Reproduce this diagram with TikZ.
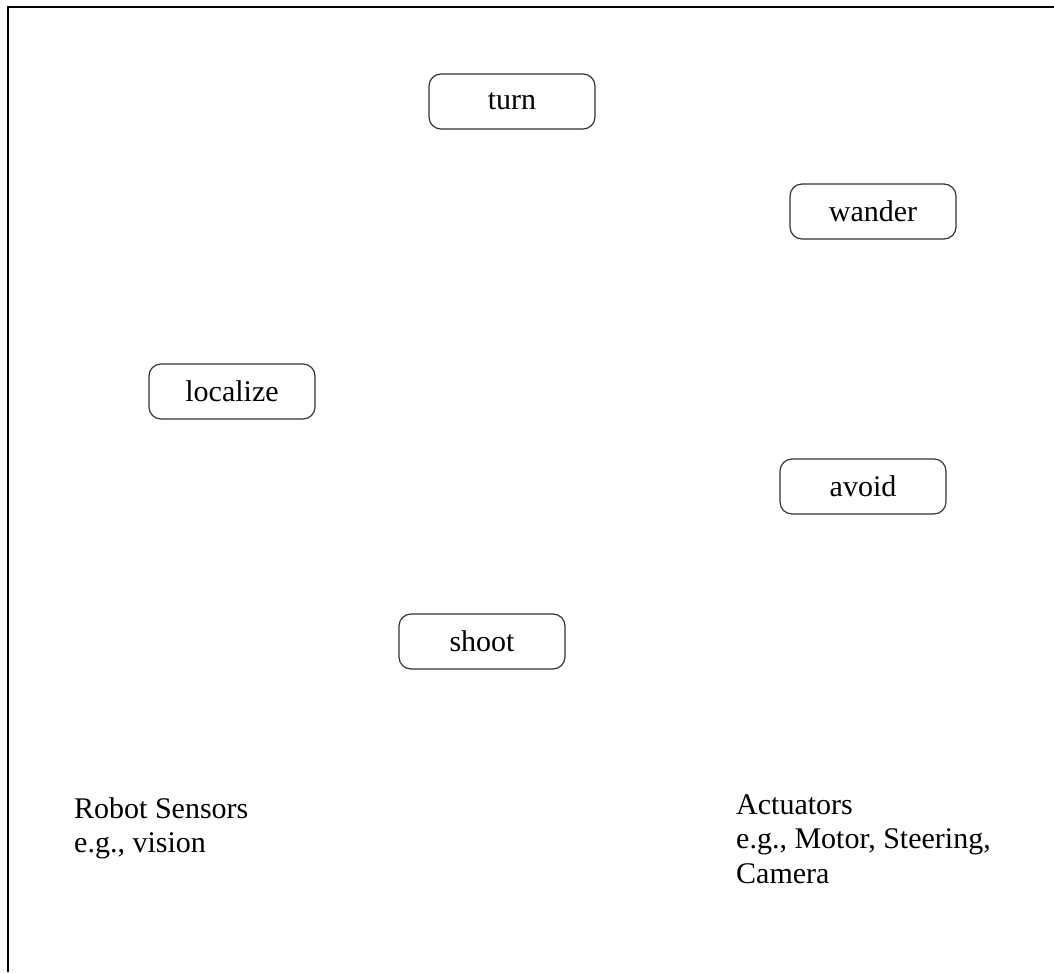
\documentclass[tikz,border=0pt]{standalone}
\usepackage{fontspec}
\setmainfont{Liberation Serif}
\begin{document}
\begin{tikzpicture}[x=1pt,y=-1pt,
  behavior/.style={draw=black!80, line width=1.2pt, rounded corners=12pt,
    minimum width=166pt, minimum height=55pt, inner sep=0pt,
    font=\fontsize{30}{35}\selectfont},
  label/.style={align=left, anchor=north west, inner sep=0pt,
    font=\fontsize{30}{34.5}\selectfont}]
\useasboundingbox (0,0) rectangle (1054,972);
\draw[line width=2pt] (8,972) -- (8,7) -- (1054,7);
\node[behavior] (turn) at (512,101.5) {turn};
\node[behavior] (wander) at (873,211.5) {wander};
\node[behavior] (localize) at (232,391.5) {localize};
\node[behavior] (avoid) at (863,486.5) {avoid};
\node[behavior] (shoot) at (482,641.5) {shoot};
\node[label] (sensors) at (74,797) {Robot Sensors\\e.g., vision};
\node[label] (actuators) at (736,794) {Actuators\\e.g., Motor, Steering,\\Camera};
\end{tikzpicture}
\end{document}
